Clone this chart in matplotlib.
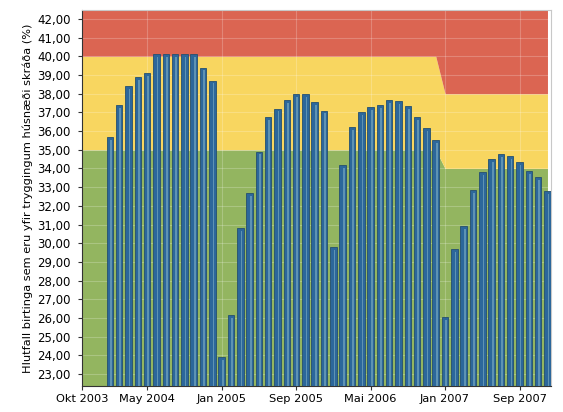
import matplotlib
matplotlib.use("Agg")
import matplotlib.pyplot as plt
import numpy as np

# Month index: 0 = Okt 2003
tick_months = [0, 7, 15, 23, 31, 39, 47]
tick_labels = ["Okt 2003", "May 2004", "Jan 2005", "Sep 2005", "Mai 2006", "Jan 2007", "Sep 2007"]

bar_months = list(range(3, 51))  # Jan 2004 .. Dec 2007
values_2004 = [35.7, 37.4, 38.4, 38.9, 39.1, 40.1, 40.1, 40.1, 40.1, 40.1, 39.4, 38.7]
values_2005 = [23.9, 26.15, 30.8, 32.7, 34.9, 36.75, 37.2, 37.65, 38.0, 38.0, 37.55, 37.1]
values_2006 = [29.8, 34.2, 36.2, 37.0, 37.3, 37.4, 37.65, 37.6, 37.35, 36.75, 36.15, 35.5]
values_2007 = [26.05, 29.7, 30.9, 32.85, 33.8, 34.5, 34.75, 34.65, 34.35, 33.85, 33.55, 32.8]
values = values_2004 + values_2005 + values_2006 + values_2007

# Threshold bands (month index, level)
band_x = [0, 38, 39, 50]
green_top = [35, 35, 34, 34]
yellow_top = [40, 40, 38, 38]
red_top = [42.48, 42.48, 42.48, 42.48]

ylabel = "Hlutfall birtinga sem eru yfir tryggingum húsnæði skráða (%)"

fig = plt.figure(figsize=(5.63, 4.12), dpi=100)
ax = fig.add_axes([0.1456, 0.0631, 0.8331, 0.9126])
ymin, ymax = 22.36, 42.48

ax.fill_between(band_x, ymin, green_top, color="#93b560", lw=0, zorder=0)
ax.fill_between(band_x, green_top, yellow_top, color="#f8d660", lw=0, zorder=0)
ax.fill_between(band_x, yellow_top, red_top, color="#db6552", lw=0, zorder=0)

ax.bar(bar_months, [v - ymin for v in values], bottom=ymin, width=0.7,
       color="#2c679b", edgecolor="#25506f", linewidth=0.6, zorder=3)
ax.bar(np.array(bar_months) + 0.12, [v - ymin - 0.15 for v in values], bottom=ymin,
       width=0.18, color="#5e93b3", linewidth=0, zorder=4)

ax.set_xlim(0, 50.38)
ax.set_ylim(ymin, ymax)
yt = np.arange(23, 43)
ax.set_yticks(yt)
ax.set_yticklabels([f"{v:.2f}".replace(".", ",") for v in yt], fontsize=8.5)
ax.set_xticks(tick_months)
ax.set_xticklabels(tick_labels, fontsize=8.2)
ax.tick_params(axis="y", length=3, color="#333333", pad=5)
ax.tick_params(axis="x", length=3, color="#333333", pad=3)
ax.set_axisbelow(True)
ax.grid(True, color="white", alpha=0.22, lw=0.8)
for s in ["top", "right"]:
    ax.spines[s].set_color("#c8c8c8")
for s in ["left", "bottom"]:
    ax.spines[s].set_color("#333333")
ax.set_ylabel(ylabel, fontsize=8.2, labelpad=3)

fig.savefig("out.png", dpi=100)
